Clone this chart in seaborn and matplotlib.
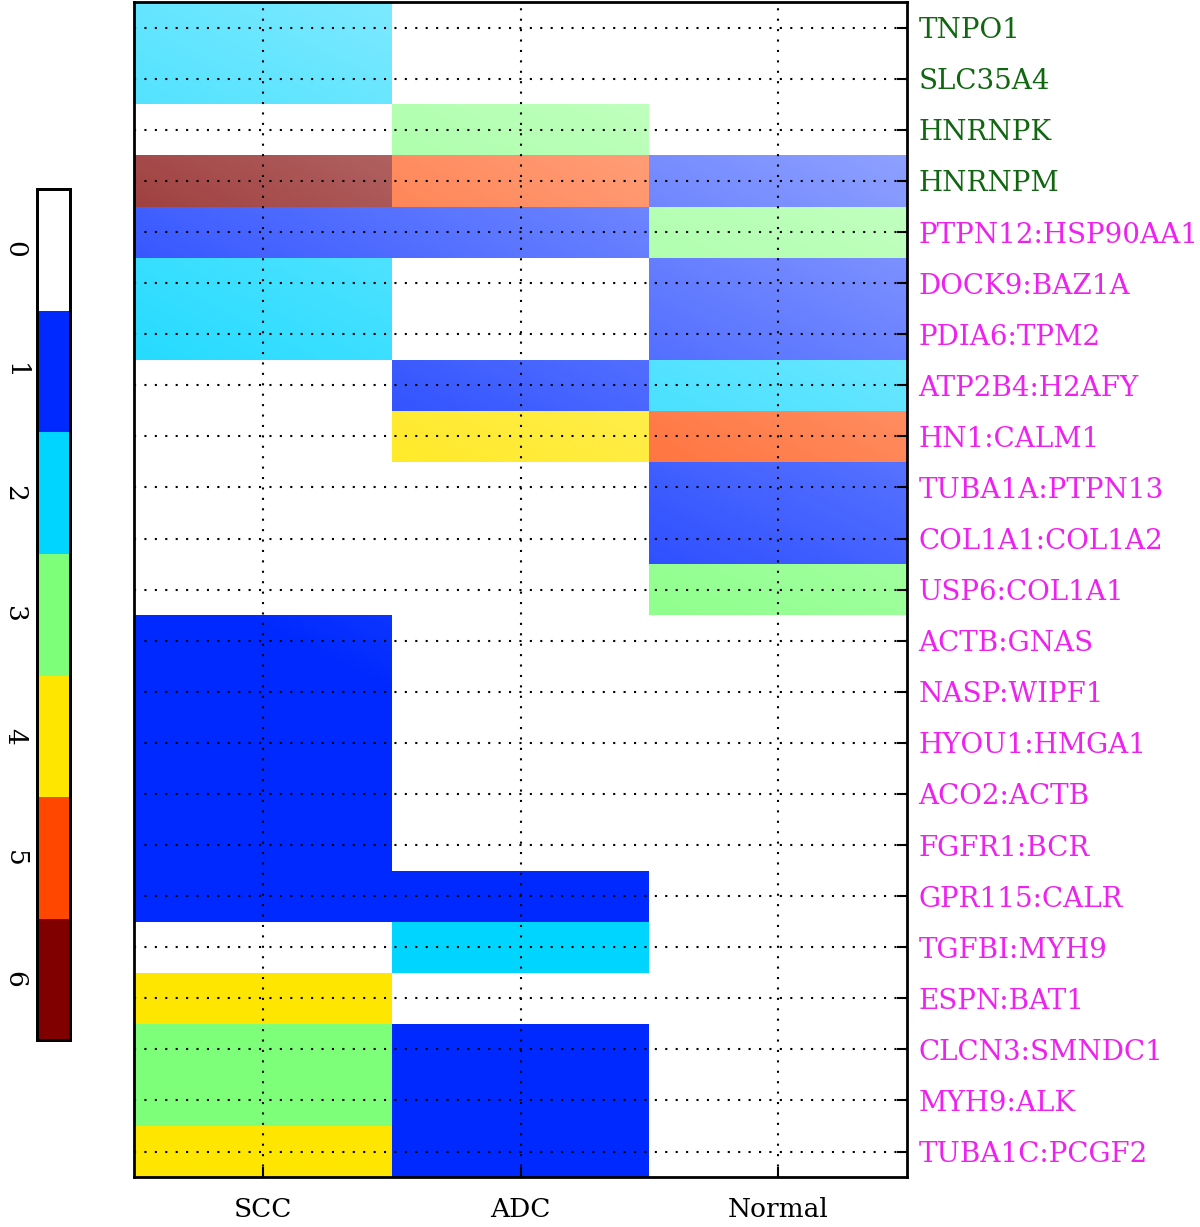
import matplotlib
matplotlib.use("Agg")
import matplotlib.pyplot as plt
from matplotlib.colors import ListedColormap
import seaborn as sns
import pandas as pd
import numpy as np

# data (top row first)
genes = ["TNPO1", "SLC35A4", "HNRNPK", "HNRNPM", "PTPN12:HSP90AA1",
         "DOCK9:BAZ1A", "PDIA6:TPM2", "ATP2B4:H2AFY", "HN1:CALM1",
         "TUBA1A:PTPN13", "COL1A1:COL1A2", "USP6:COL1A1", "ACTB:GNAS",
         "NASP:WIPF1", "HYOU1:HMGA1", "ACO2:ACTB", "FGFR1:BCR",
         "GPR115:CALR", "TGFBI:MYH9", "ESPN:BAT1", "CLCN3:SMNDC1",
         "MYH9:ALK", "TUBA1C:PCGF2"]
groups = ["SCC", "ADC", "Normal"]
scc = [2, 2, 0, 6, 1, 2, 2, 0, 0, 0, 0, 0, 1, 1, 1, 1, 1, 1, 0, 4, 3, 3, 4]
adc = [0, 0, 3, 5, 1, 0, 0, 1, 4, 0, 0, 0, 0, 0, 0, 0, 0, 1, 2, 0, 1, 1, 1]
normal = [0, 0, 0, 1, 3, 1, 1, 2, 5, 1, 1, 3, 0, 0, 0, 0, 0, 0, 0, 0, 0, 0, 0]
n_single = 4  # first rows are single genes (green), rest are pairs (magenta)
levels = [0, 1, 2, 3, 4, 5, 6]

df = pd.DataFrame({"SCC": scc, "ADC": adc, "Normal": normal}, index=genes)[groups]

jet = plt.get_cmap("jet")
colors = ["white"] + [jet(i / 6) for i in levels[1:]]
cmap = ListedColormap(colors)

fig = plt.figure(figsize=(12, 12.27), dpi=100)
ax = fig.add_axes([0.1117, 0.0407, 0.6443, 0.9575])
cax = fig.add_axes([0.031, 0.152, 0.0275, 0.694])

sns.heatmap(df, ax=ax, cmap=cmap, vmin=-0.5, vmax=6.5, cbar_ax=cax,
            cbar_kws={"ticks": levels})

# light washed-out shading toward the top right, like the original render
nr, nc = df.shape
xx, yy = np.meshgrid(np.linspace(0, nc, 300), np.linspace(0, nr, 300))
alpha = np.clip(0.40 + 0.09 * xx - 0.036 * yy, 0, 0.7)
overlay = np.ones((300, 300, 4))
overlay[..., 3] = alpha
ax.imshow(overlay, extent=(0, nc, nr, 0), aspect="auto", zorder=1.5,
          interpolation="bilinear")
ax.set_xlim(0, nc)
ax.set_ylim(nr, 0)

# axes styling
for s in ax.spines.values():
    s.set_visible(True)
    s.set_linewidth(2)
    s.set_color("black")
ax.set_axisbelow(False)
ax.grid(True, color="black", linestyle=(0, (1, 4)), linewidth=1.5)
ax.yaxis.tick_right()
ax.tick_params(axis="y", direction="in", length=7, width=1.5, right=True,
               left=False, labelright=True, labelleft=False, pad=8)
ax.tick_params(axis="x", direction="in", length=7, width=1.5, pad=14)
ax.set_yticklabels(genes, rotation=0, fontsize=20, family="DejaVu Serif")
for i, t in enumerate(ax.get_yticklabels()):
    t.set_color("#116611" if i < n_single else "#ee22ee")
ax.set_xticklabels(groups, rotation=0, fontsize=19, family="DejaVu Serif")
ax.set_xlabel("")
ax.set_ylabel("")

# colorbar
cax.invert_yaxis()
cax.yaxis.set_ticks_position("left")
cax.tick_params(length=0, pad=7)
cax.set_yticklabels([str(v) for v in levels], rotation=-90, fontsize=19,
                    family="DejaVu Serif", va="center")
for s in cax.spines.values():
    s.set_visible(True)
    s.set_linewidth(2)
cb = ax.collections[0].colorbar
cb.outline.set_linewidth(2)
cb.outline.set_edgecolor("black")

plt.savefig("out.png", dpi=100)
